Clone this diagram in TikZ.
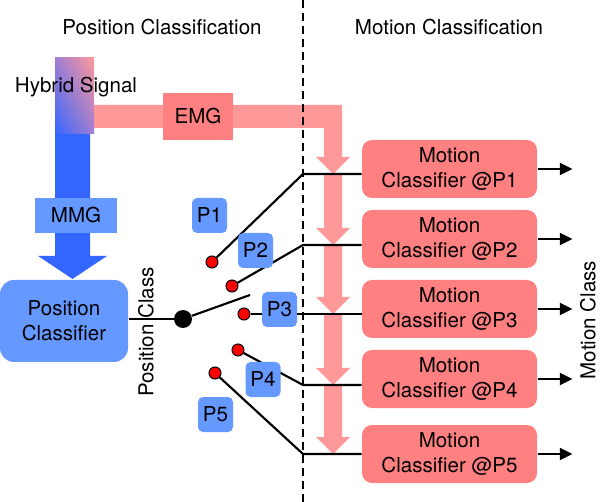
\documentclass[tikz,border=0pt]{standalone}
\usepackage{fontspec}
\setmainfont{TeX Gyre Heros}
\usetikzlibrary{arrows.meta,shadings}

\definecolor{emgred}{RGB}{255,128,128}
\definecolor{emgband}{RGB}{255,153,153}
\definecolor{mmgblue}{RGB}{51,102,255}
\definecolor{boxblue}{RGB}{102,153,255}
\definecolor{mixpurple}{RGB}{160,125,210}

\tikzset{every picture/.style={line width=0.75pt}}
\tikzset{
  mclass/.style={fill=emgred, rounded corners=7.5pt, minimum width=131.25pt, minimum height=43.5pt, align=center, inner sep=0pt},
  pbox/.style={fill=boxblue, rounded corners=3.75pt, minimum size=26.25pt, inner sep=0pt},
  contact/.style={circle, draw, fill=red, minimum size=9pt, inner sep=0pt, line width=0.75pt},
  wire/.style={line width=1.6pt},
  outarrow/.style={wire, -{Triangle[length=9.5pt,width=9pt]}},
}

\begin{document}
\begin{tikzpicture}[x=0.75pt,y=0.75pt,yscale=-1,xscale=1,font=\fontsize{15.4}{18.5}\selectfont]
	\useasboundingbox (0,0) rectangle (600,502);

	%Shape: EMG band with first arrow
	\fill [emgband] (94,105) -- (342,105) -- (342,157) -- (350,157) -- (333,174) -- (316,157) -- (324,157) -- (324,128) -- (94,128) -- cycle ;
	%Shape: EMG arrows between classifiers
	\fill [emgband] (324,174) -- (342,174) -- (342,228) -- (350,228) -- (333,245) -- (316,228) -- (324,228) -- cycle ;
	\fill [emgband] (324,245) -- (342,245) -- (342,297) -- (350,297) -- (333,314) -- (316,297) -- (324,297) -- cycle ;
	\fill [emgband] (324,314) -- (342,314) -- (342,368) -- (350,368) -- (333,385) -- (316,368) -- (324,368) -- cycle ;
	\fill [emgband] (324,385) -- (342,385) -- (342,437) -- (350,437) -- (333,454) -- (316,437) -- (324,437) -- cycle ;

	%Shape: MMG arrow
	\fill [mmgblue] (55,134) -- (90,134) -- (90,256) -- (107,256) -- (72.5,279) -- (38,256) -- (55,256) -- cycle ;
	%Shape: Hybrid signal
	\shade [lower left=mmgblue, upper right=emgband, upper left=mixpurple, lower right=mixpurple] (55,58) rectangle (94,134) ;

	%Straight Lines: separator
	\draw [line width=1.5pt, dash pattern={on 6pt off 3.75pt}] (303,0) -- (303,502) ;

	% Text Node
	\node (title1) at (162,27) {Position Classification};
	% Text Node
	\node (title2) at (449,27) {Motion Classification};
	% Text Node
	\node (hybrid) at (76,87) {Hybrid Signal};

	%Shape: Rectangle
	\node [fill=emgred, minimum width=52.5pt, minimum height=35.25pt] (emg) at (198,116.5) {EMG};
	%Shape: Rectangle
	\node [fill=boxblue, minimum width=61.5pt, minimum height=26.25pt] (mmg) at (76,215.5) {MMG};
	%Shape: Rounded Rect
	\node [fill=boxblue, rounded corners=10.5pt, minimum width=96pt, minimum height=61.5pt, align=center, inner sep=0pt] (pc) at (64,321) {Position\\Classifier};

	%Shape: Rounded Rect
	\node [mclass] (m1) at (449.5,169) {Motion\\Classifier @P1};
	\node [mclass] (m2) at (449.5,239) {Motion\\Classifier @P2};
	\node [mclass] (m3) at (449.5,309) {Motion\\Classifier @P3};
	\node [mclass] (m4) at (449.5,379) {Motion\\Classifier @P4};
	\node [mclass] (m5) at (449.5,454) {Motion\\Classifier @P5};

	% Switch
	\node [circle, fill=black, minimum size=13.5pt, inner sep=0pt] (sw) at (183,319) {};
	\coordinate (blade) at (250,295);
	\node [contact] (c1) at (212,262) {};
	\node [contact] (c2) at (232,286) {};
	\node [contact] (c3) at (244,314) {};
	\node [contact] (c4) at (238,350) {};
	\node [contact] (c5) at (215,373) {};
	\coordinate (k1) at (303,174);
	\coordinate (k2) at (303,245);
	\coordinate (k3) at (303,314);
	\coordinate (k4) at (303,385);
	\coordinate (k5) at (303,454);

	%Straight Lines
	\draw [wire] (pc.east |- sw) -- (sw) ;
	\draw [wire] (sw) -- (blade) ;
	\draw [wire] (c1) -- (k1) -- (k1 -| m1.west) ;
	\draw [wire] (c2) -- (k2) -- (k2 -| m2.west) ;
	\draw [wire] (c3) -- (k3) -- (k3 -| m3.west) ;
	\draw [wire] (c4) -- (k4) -- (k4 -| m4.west) ;
	\draw [wire] (c5) -- (k5) -- (k5 -| m5.west) ;

	%Straight Lines: outputs
	\draw [outarrow] (m1.east) -- ++(35,0) ;
	\draw [outarrow] (m2.east) -- ++(35,0) ;
	\draw [outarrow] (m3.east) -- ++(35,0) ;
	\draw [outarrow] (m4.east) -- ++(35,0) ;
	\draw [outarrow] (m5.east) -- ++(35,0) ;

	%Shape: Rounded Rect
	\node [pbox] (p1) at (209.5,215.5) {P1};
	\node [pbox] (p2) at (255.5,250.5) {P2};
	\node [pbox] (p3) at (279.5,309.5) {P3};
	\node [pbox] (p4) at (263,379.5) {P4};
	\node [pbox] (p5) at (215.5,414.5) {P5};

	% Text Node
	\node [rotate=90] (posclass) at (146,332) {Position Class};
	% Text Node
	\node [rotate=90] (motclass) at (588,320) {Motion Class};

\end{tikzpicture}
\end{document}
